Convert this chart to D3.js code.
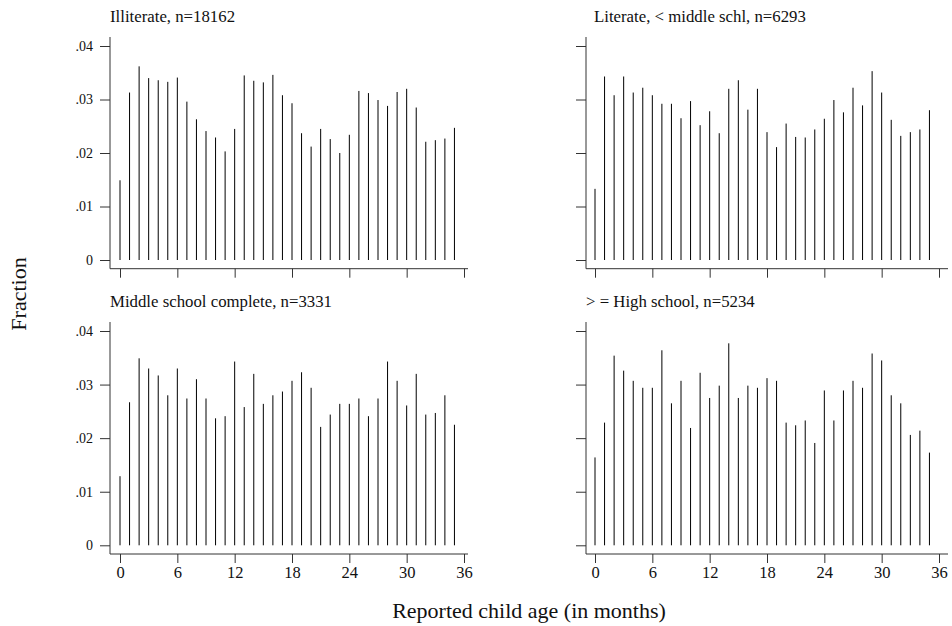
<!DOCTYPE html>
<html><head><meta charset="utf-8">
<script src="https://cdn.jsdelivr.net/npm/d3@7"></script>
<style>body{margin:0;background:#fff}svg{display:block}</style>
</head><body><svg id="c" width="952" height="626"></svg>
<script>
const ages = d3.range(0, 36);
const panelTitles = ["Illiterate, n=18162", "Literate, < middle schl, n=6293", "Middle school complete, n=3331", "> = High school, n=5234"];
const illiterate = [.0149,.0313,.0362,.0340,.0336,.0333,.0341,.0296,.0263,.0241,.0229,.0203,.0245,.0345,.0335,.0332,.0346,.0308,.0293,.0237,.0212,.0245,.0226,.0200,.0234,.0316,.0312,.0299,.0288,.0314,.0320,.0285,.0221,.0224,.0227,.0247];
const literate = [.0133,.0343,.0308,.0343,.0313,.0322,.0308,.0292,.0292,.0265,.0297,.0252,.0278,.0237,.0320,.0336,.0281,.0320,.0239,.0211,.0255,.0230,.0229,.0244,.0264,.0299,.0276,.0322,.0289,.0353,.0313,.0262,.0232,.0239,.0244,.0280];
const middle = [.0129,.0267,.0349,.0330,.0317,.0280,.0330,.0274,.0310,.0274,.0237,.0241,.0343,.0258,.0320,.0264,.0280,.0287,.0307,.0323,.0294,.0221,.0244,.0264,.0264,.0274,.0241,.0274,.0343,.0307,.0261,.0320,.0244,.0247,.0280,.0225];
const highschool = [.0164,.0229,.0354,.0326,.0307,.0294,.0294,.0364,.0265,.0307,.0219,.0322,.0275,.0298,.0377,.0275,.0298,.0294,.0312,.0307,.0229,.0224,.0233,.0191,.0289,.0233,.0289,.0307,.0294,.0358,.0345,.0280,.0265,.0206,.0214,.0173];
const xTicks = [0, 6, 12, 18, 24, 30, 36];
const yTicks = [0, .01, .02, .03, .04];
const yTickLabels = ["0", ".01", ".02", ".03", ".04"];
const yTitle = "Fraction";
const xTitle = "Reported child age (in months)";

const series = [illiterate, literate, middle, highschool];
const svg = d3.select("#c");
const FONT = "Liberation Serif, DejaVu Serif, serif";
const axisColor = "#333";
const textColor = "#111";

const layouts = [
  {ax:110, x0:120, x36:464, y0:260, y4:46, top:37, right:468, titleX:110, titleY:22, xLabels:false, yLabels:true},
  {ax:586, x0:595, x36:939, y0:260, y4:46, top:37, right:948, titleX:594, titleY:22, xLabels:false, yLabels:false},
  {ax:110, x0:120, x36:464, y0:545.3, y4:331, top:322, right:468, titleX:110, titleY:307, xLabels:true, yLabels:true},
  {ax:586, x0:595, x36:939, y0:545.3, y4:331, top:322, right:948, titleX:586, titleY:307, xLabels:true, yLabels:false}
];

layouts.forEach((L, i) => {
  const x = d3.scaleLinear().domain([0, 36]).range([L.x0, L.x36]);
  const y = d3.scaleLinear().domain([0, .04]).range([L.y0, L.y4]);
  const baseY = L.y0 + 8.7;
  const g = svg.append("g");
  g.selectAll("line.bar").data(series[i]).join("line")
    .attr("class", "bar")
    .attr("x1", (d, j) => x(ages[j])).attr("x2", (d, j) => x(ages[j]))
    .attr("y1", y(0)).attr("y2", d => y(d))
    .attr("stroke", "#000").attr("stroke-width", 1);
  const ya = d3.axisLeft(y).tickValues(yTicks).tickSize(10).tickPadding(7)
    .tickFormat((d, k) => L.yLabels ? yTickLabels[k] : "");
  const yg = g.append("g").attr("transform", `translate(${L.ax},0)`).call(ya)
    .attr("font-family", FONT).attr("font-size", 14);
  yg.select(".domain").remove();
  yg.append("line").attr("x1", 0).attr("x2", 0).attr("y1", L.top).attr("y2", baseY).attr("stroke", axisColor);
  const xa = d3.axisBottom(x).tickValues(xTicks).tickSize(9).tickPadding(4)
    .tickFormat(d => L.xLabels ? d : "");
  const xg = g.append("g").attr("transform", `translate(0,${baseY})`).call(xa)
    .attr("font-family", FONT).attr("font-size", 16.5);
  xg.select(".domain").remove();
  xg.selectAll(".tick text").attr("y", 23.5).attr("dy", 0);
  xg.append("line").attr("x1", L.ax).attr("x2", L.right).attr("y1", 0).attr("y2", 0).attr("stroke", axisColor);
  [yg, xg].forEach(a => {
    a.selectAll(".tick line").attr("stroke", axisColor);
    a.selectAll(".tick text").attr("fill", textColor);
  });
  g.append("text").attr("x", L.titleX).attr("y", L.titleY)
    .attr("font-family", FONT).attr("font-size", 16.8).attr("fill", textColor).text(panelTitles[i]);
});

svg.append("text").attr("transform", "translate(26,294) rotate(-90)").attr("text-anchor", "middle")
  .attr("font-family", FONT).attr("font-size", 22).attr("fill", textColor).text(yTitle);
svg.append("text").attr("x", 529).attr("y", 618).attr("text-anchor", "middle")
  .attr("font-family", FONT).attr("font-size", 22).attr("fill", textColor).text(xTitle);
</script></body></html>
